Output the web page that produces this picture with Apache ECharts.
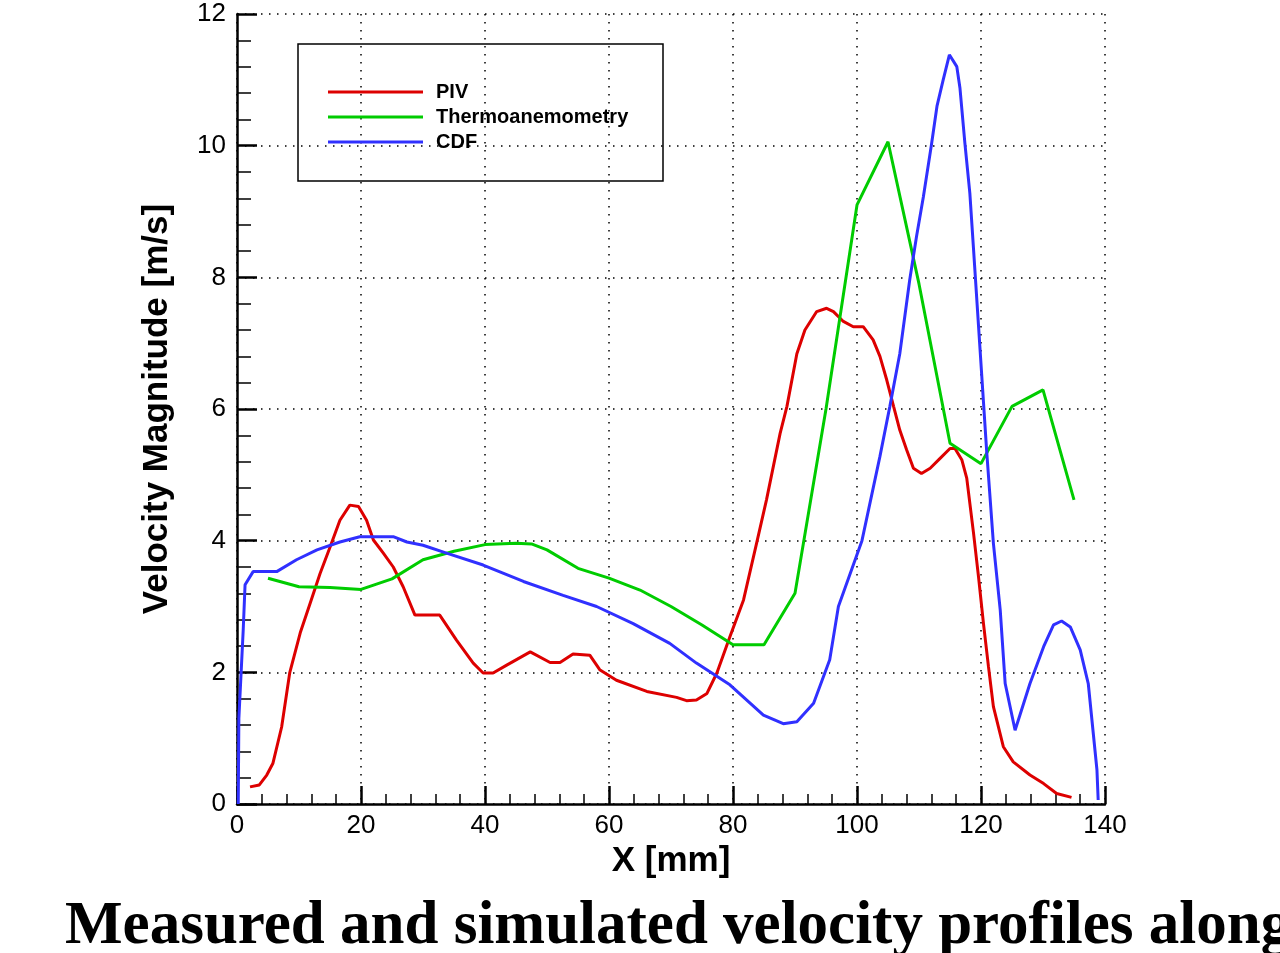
<!DOCTYPE html>
<html><head><meta charset="utf-8">
<script src="https://cdn.jsdelivr.net/npm/echarts@6/dist/echarts.min.js"></script>
<style>html,body{margin:0;padding:0;background:#fff}#c{width:1280px;height:953px}</style>
</head><body><div id="c"></div>
<script>
const seriesNames = ['PIV', 'Thermoanemometry', 'CDF'];
const xTicks = [0, 20, 40, 60, 80, 100, 120, 140];
const yTicks = [0, 2, 4, 6, 8, 10, 12];
const pivData = [[2.1,0.26],[3.6,0.29],[4.8,0.44],[5.8,0.62],[7.2,1.17],[8.5,1.99],[10.2,2.6],[11.8,3.05],[13.4,3.5],[15,3.9],[16.6,4.31],[18.2,4.54],[19.6,4.52],[20.9,4.31],[22,4.01],[23.6,3.81],[25.2,3.6],[26.8,3.3],[28.7,2.87],[32.7,2.87],[35.4,2.49],[38.1,2.14],[39.7,1.99],[41.3,1.99],[43.5,2.11],[47.3,2.31],[50.5,2.15],[52.1,2.15],[54.2,2.28],[56.9,2.26],[58.5,2.04],[61.2,1.88],[66.1,1.71],[70.9,1.62],[72.5,1.57],[74.1,1.58],[75.8,1.68],[77.4,1.99],[79.5,2.54],[81.7,3.1],[83.8,3.96],[85.4,4.62],[87.6,5.63],[88.7,6.04],[90.3,6.84],[91.6,7.2],[93.5,7.48],[95.1,7.53],[96.2,7.48],[97.8,7.33],[99.4,7.25],[101,7.25],[102.6,7.05],[103.7,6.8],[104.8,6.44],[105.9,6.04],[106.9,5.68],[108,5.38],[109.1,5.1],[110.4,5.02],[111.8,5.1],[113.4,5.25],[115,5.4],[115.8,5.4],[116.9,5.23],[117.7,4.95],[118.8,4.11],[119.6,3.45],[120.4,2.74],[121.2,2.09],[122,1.48],[123.6,0.87],[125.2,0.64],[127.9,0.44],[130.1,0.31],[132.2,0.16],[134.6,0.1]];
const thermoData = [[5,3.43],[10,3.3],[15,3.29],[20,3.26],[25,3.42],[30,3.71],[35,3.84],[40,3.94],[45,3.96],[47.5,3.95],[50,3.86],[55,3.58],[60,3.43],[65,3.25],[70,3.0],[75,2.72],[80,2.42],[85,2.42],[90,3.2],[95,6.0],[100,9.1],[105,10.06],[110,7.9],[115,5.48],[120,5.17],[125,6.04],[130,6.29],[135,4.62]];
const cdfData = [[0.2,0],[0.3,1.3],[1,2.64],[1.3,3.33],[2.6,3.53],[6.4,3.53],[9.6,3.71],[12.9,3.86],[16.6,3.98],[19.8,4.06],[25.2,4.06],[27.4,3.98],[30,3.93],[33.8,3.81],[39.7,3.63],[46.2,3.38],[52.6,3.17],[58,3.0],[63.9,2.74],[69.8,2.44],[74.1,2.14],[79.5,1.81],[84.9,1.35],[88.1,1.22],[90.3,1.25],[93,1.53],[95.6,2.19],[97,3.0],[100.8,4.0],[103.7,5.28],[105.3,6.04],[106.9,6.84],[108.5,7.96],[109.6,8.62],[110.7,9.22],[112,10.01],[112.9,10.6],[113.9,11.0],[114.9,11.38],[116.1,11.2],[116.6,10.88],[117.4,10.04],[118.2,9.28],[118.8,8.42],[120.9,5.38],[122,3.96],[123.1,2.95],[123.9,1.83],[125.5,1.12],[127.9,1.83],[130.1,2.39],[131.7,2.72],[133,2.78],[134.4,2.69],[136,2.34],[137.3,1.83],[138.7,0.52],[138.9,0.06]];
const colors = ['#dd0000', '#00cc00', '#3030ff'];
const captionText = 'Measured and simulated velocity profiles along';

const chart = echarts.init(document.getElementById('c'));
const gridLine = {show: true, lineStyle: {color: '#000', width: 1.5, type: [1.5, 6.5]}};
chart.setOption({
  animation: false,
  backgroundColor: '#fff',
  grid: {left: 237, right: 175, top: 14, bottom: 149, containLabel: false},
  xAxis: {
    type: 'value', min: xTicks[0], max: xTicks[xTicks.length - 1], interval: 20,
    name: 'X [mm]', nameLocation: 'middle', nameGap: 37,
    nameTextStyle: {fontFamily: 'Liberation Sans', fontWeight: 'bold', fontSize: 35, color: '#000'},
    axisLine: {show: true, onZero: false, lineStyle: {color: '#000', width: 2.5}},
    axisTick: {show: true, inside: true, length: 18, lineStyle: {color: '#000', width: 2.5}},
    minorTick: {show: true, splitNumber: 5, length: 10, lineStyle: {color: '#000', width: 1.5}},
    axisLabel: {margin: 9, fontFamily: 'Liberation Sans', fontSize: 26, color: '#000'},
    splitLine: gridLine
  },
  yAxis: {
    type: 'value', min: yTicks[0], max: yTicks[yTicks.length - 1], interval: 2,
    name: 'Velocity Magnitude [m/s]', nameLocation: 'middle', nameGap: 62, nameRotate: 90,
    nameTextStyle: {fontFamily: 'Liberation Sans', fontWeight: 'bold', fontSize: 35, color: '#000'},
    axisLine: {show: true, onZero: false, lineStyle: {color: '#000', width: 2.5}},
    axisTick: {show: true, inside: true, length: 20, lineStyle: {color: '#000', width: 2.5}},
    minorTick: {show: true, splitNumber: 5, length: 14, lineStyle: {color: '#000', width: 1.5}},
    axisLabel: {margin: 11, fontFamily: 'Liberation Sans', fontSize: 26, color: '#000'},
    splitLine: gridLine
  },
  legend: {
    show: true, orient: 'vertical', left: 328, top: 82, itemWidth: 95, itemHeight: 3, itemGap: 5,
    icon: 'rect', padding: 0,
    textStyle: {fontFamily: 'Liberation Sans', fontWeight: 'bold', fontSize: 20, color: '#000', padding: [0, 0, 0, 8]},
    data: seriesNames
  },
  graphic: [
    {type: 'rect', shape: {x: 298, y: 44, width: 365, height: 137}, style: {fill: 'none', stroke: '#000', lineWidth: 1.5}, z: 10},
    {type: 'text', left: 65, top: 897, style: {text: captionText, font: 'bold 61px "Liberation Serif"', fill: '#000'}}
  ],
  series: [
    {name: seriesNames[0], type: 'line', data: pivData, showSymbol: false, lineStyle: {width: 3, color: colors[0]}, itemStyle: {color: colors[0]}},
    {name: seriesNames[1], type: 'line', data: thermoData, showSymbol: false, lineStyle: {width: 3, color: colors[1]}, itemStyle: {color: colors[1]}},
    {name: seriesNames[2], type: 'line', data: cdfData, showSymbol: false, lineStyle: {width: 3, color: colors[2]}, itemStyle: {color: colors[2]}}
  ]
});
</script></body></html>
